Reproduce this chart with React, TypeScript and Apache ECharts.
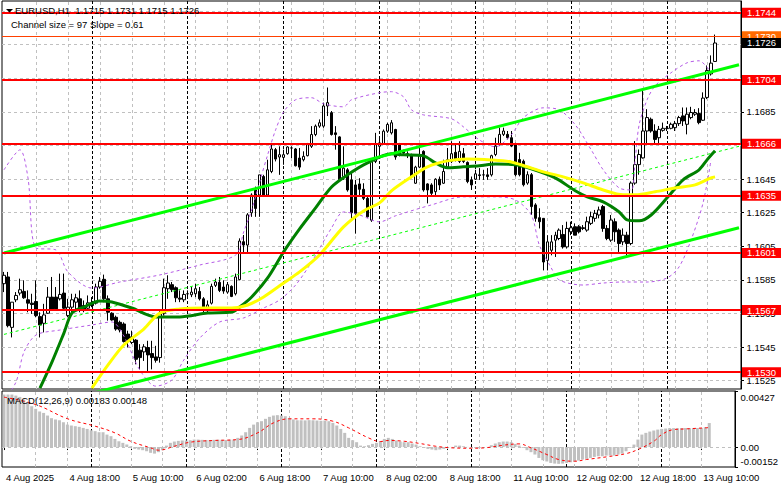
import React, { useEffect, useRef } from "react";
import * as echarts from "echarts";

// ---------- texts ----------
const symbolHeader = "EURUSD,H1  1.1715 1.1731 1.1715 1.1726";
const channelText = "Channel size = 97 Slope = 0.61";
const macdText = "MACD(12,26,9) 0.00183 0.00148";

// ---------- x axis ----------
const xTickLabels = [
  "4 Aug 2025", "4 Aug 18:00", "5 Aug 10:00", "6 Aug 02:00", "6 Aug 18:00", "7 Aug 10:00",
  "8 Aug 02:00", "8 Aug 18:00", "11 Aug 10:00", "12 Aug 02:00", "12 Aug 18:00", "13 Aug 10:00",
];
const BARS_PER_LABEL = 16;
const GRID_EVERY = 8;
const SLOT_COUNT = 185; // bars + empty space at the right
const daySeparators = [22, 46, 70, 94, 118, 142, 166];

// ---------- candles (H1) ----------
const opens = [
  1.15827, 1.15867, 1.15567, 1.15731, 1.15771, 1.15781, 1.15731, 1.15711, 1.15721, 1.15631,
  1.15591, 1.15651, 1.15747, 1.15747, 1.15737, 1.15771, 1.15637, 1.15687, 1.15717, 1.15737,
  1.15697, 1.15681, 1.15713, 1.15711, 1.15807, 1.15853, 1.15737, 1.15651, 1.15627, 1.15597,
  1.15587, 1.15527, 1.15477, 1.15491, 1.15431, 1.15421, 1.15447, 1.15411, 1.15391, 1.15387,
  1.15651, 1.15797, 1.15821, 1.15803, 1.15741, 1.15731, 1.15767, 1.15761, 1.15767, 1.15781,
  1.15737, 1.15667, 1.15711, 1.15817, 1.15835, 1.15807, 1.15777, 1.15811, 1.15767, 1.15851,
  1.16077, 1.16057, 1.16249, 1.16385, 1.16355, 1.16465, 1.16355, 1.16495, 1.16625, 1.16581,
  1.16579, 1.16601, 1.16635, 1.16629, 1.16575, 1.16565, 1.16589, 1.16645, 1.16715, 1.16765,
  1.16765, 1.16885, 1.16845, 1.16725, 1.16701, 1.16465, 1.16505, 1.16445, 1.16415, 1.16421,
  1.16389, 1.16335, 1.16205, 1.16555, 1.16645, 1.16661, 1.16735, 1.16725, 1.16745, 1.16655,
  1.16615, 1.16601, 1.16595, 1.16425, 1.16521, 1.16615, 1.16421, 1.16415, 1.16375, 1.16449,
  1.16425, 1.16521, 1.16555, 1.16609, 1.16555, 1.16601, 1.16549, 1.16445, 1.16449, 1.16475,
  1.16475, 1.16475, 1.16475, 1.16596, 1.16656, 1.16716, 1.16716, 1.16696, 1.16656, 1.16566,
  1.16556, 1.16426, 1.16476, 1.16296, 1.1622, 1.16216, 1.15966, 1.16026, 1.16086, 1.16096,
  1.1612, 1.16046, 1.16136, 1.16166, 1.16166, 1.1616, 1.16146, 1.16186, 1.16216, 1.16236,
  1.16286, 1.16156, 1.16086, 1.16196, 1.16146, 1.16076, 1.16116, 1.16066, 1.16426, 1.16536,
  1.16576, 1.16736, 1.16806, 1.16736, 1.16696, 1.1674, 1.1675, 1.16752, 1.16756, 1.1678,
  1.16826, 1.16776, 1.16816, 1.16836, 1.1684, 1.168, 1.16936, 1.17076, 1.1715,
];
const highs = [
  1.15897, 1.15897, 1.15717, 1.15777, 1.15857, 1.15847, 1.15787, 1.15767, 1.15847, 1.15657,
  1.15707, 1.15807, 1.15867, 1.15807, 1.15887, 1.15887, 1.15737, 1.15767, 1.15767, 1.15787,
  1.15727, 1.15757, 1.15747, 1.15827, 1.15867, 1.15881, 1.15757, 1.15657, 1.15637, 1.15607,
  1.15597, 1.15547, 1.15547, 1.15497, 1.15467, 1.15467, 1.15487, 1.15487, 1.15457, 1.15667,
  1.15857, 1.15877, 1.15837, 1.15811, 1.15787, 1.15787, 1.15787, 1.15807, 1.15827, 1.15807,
  1.15747, 1.15727, 1.15827, 1.15857, 1.15867, 1.15847, 1.15837, 1.15817, 1.15887, 1.16097,
  1.16117, 1.16247, 1.16365, 1.16405, 1.16475, 1.16475, 1.16565, 1.16665, 1.16635, 1.16645,
  1.16625, 1.16645, 1.16645, 1.16635, 1.16635, 1.16615, 1.16665, 1.16765, 1.16775, 1.16805,
  1.16905, 1.16995, 1.16855, 1.16765, 1.16705, 1.16645, 1.16515, 1.16485, 1.16445, 1.16455,
  1.16425, 1.16345, 1.16565, 1.16725, 1.16689, 1.16745, 1.16785, 1.16801, 1.16749, 1.16665,
  1.16625, 1.16615, 1.16601, 1.16529, 1.16655, 1.16621, 1.16425, 1.16425, 1.16455, 1.16465,
  1.16565, 1.16635, 1.16675, 1.16655, 1.16675, 1.16635, 1.16555, 1.16465, 1.16505, 1.16515,
  1.16505, 1.16515, 1.16595, 1.16696, 1.16756, 1.16756, 1.16736, 1.16736, 1.16666, 1.16606,
  1.16566, 1.16496, 1.16486, 1.16306, 1.16276, 1.16216, 1.16116, 1.16116, 1.16136, 1.16156,
  1.16176, 1.16196, 1.16196, 1.16186, 1.16176, 1.16176, 1.16226, 1.16256, 1.16266, 1.16286,
  1.16296, 1.16176, 1.16236, 1.16216, 1.16156, 1.16156, 1.16136, 1.16436, 1.16676, 1.16626,
  1.16986, 1.16866, 1.16816, 1.16776, 1.16766, 1.16786, 1.16766, 1.16786, 1.16796, 1.16826,
  1.16876, 1.16876, 1.1688, 1.16866, 1.16872, 1.16966, 1.17126, 1.17186, 1.1731,
];
const lows = [
  1.15777, 1.15567, 1.15507, 1.15717, 1.15757, 1.15737, 1.15657, 1.15647, 1.15627, 1.15507,
  1.15537, 1.15647, 1.15667, 1.15667, 1.15727, 1.15667, 1.15627, 1.15647, 1.15667, 1.15657,
  1.15657, 1.15667, 1.15687, 1.15703, 1.15797, 1.15717, 1.15607, 1.15607, 1.15547, 1.15537,
  1.15477, 1.15447, 1.15467, 1.15347, 1.15317, 1.15367, 1.15297, 1.15317, 1.15357, 1.15357,
  1.15637, 1.15737, 1.15777, 1.15717, 1.15717, 1.15717, 1.15747, 1.15747, 1.15747, 1.15727,
  1.15657, 1.15657, 1.15703, 1.15807, 1.15777, 1.15767, 1.15767, 1.15747, 1.15757, 1.15847,
  1.16007, 1.16007, 1.16225, 1.16225, 1.16225, 1.16345, 1.16345, 1.16485, 1.16555, 1.16475,
  1.16535, 1.16595, 1.16575, 1.16525, 1.16505, 1.16555, 1.16585, 1.16635, 1.16705, 1.16755,
  1.16755, 1.16825, 1.16709, 1.16625, 1.16445, 1.16445, 1.16375, 1.16205, 1.16125, 1.16355,
  1.16325, 1.16221, 1.16195, 1.16545, 1.16575, 1.16655, 1.16725, 1.16715, 1.16565, 1.16585,
  1.16595, 1.16575, 1.16455, 1.16421, 1.16515, 1.16375, 1.16305, 1.16355, 1.16355, 1.16385,
  1.16421, 1.16515, 1.16545, 1.16555, 1.16545, 1.16545, 1.16425, 1.16385, 1.16445, 1.16445,
  1.16445, 1.16445, 1.16465, 1.16586, 1.16646, 1.16706, 1.16686, 1.1664, 1.16466, 1.16466,
  1.16406, 1.16416, 1.16236, 1.16196, 1.16156, 1.15906, 1.15906, 1.15996, 1.15986, 1.16086,
  1.16036, 1.16036, 1.16116, 1.16116, 1.16126, 1.16146, 1.16136, 1.16176, 1.16196, 1.16216,
  1.16136, 1.16086, 1.16076, 1.16076, 1.16016, 1.16056, 1.15996, 1.16056, 1.16416, 1.16476,
  1.16572, 1.16656, 1.16726, 1.16656, 1.16652, 1.16732, 1.16736, 1.16746, 1.16736, 1.16766,
  1.16766, 1.16716, 1.16806, 1.16826, 1.16776, 1.16796, 1.16926, 1.17066, 1.1715,
];
const closes = [
  1.15877, 1.15577, 1.15717, 1.15757, 1.15791, 1.15743, 1.15711, 1.15703, 1.15637, 1.15581,
  1.15641, 1.15747, 1.15671, 1.15677, 1.15763, 1.15681, 1.15687, 1.15731, 1.15743, 1.15671,
  1.15667, 1.15713, 1.15697, 1.15807, 1.15841, 1.15737, 1.15657, 1.15611, 1.15557, 1.15551,
  1.15483, 1.15483, 1.15511, 1.15377, 1.15387, 1.15451, 1.15403, 1.15387, 1.15371, 1.15647,
  1.15803, 1.15831, 1.15791, 1.15743, 1.15735, 1.15763, 1.15767, 1.15777, 1.15797, 1.15737,
  1.15687, 1.15701, 1.15811, 1.15837, 1.15787, 1.15783, 1.15821, 1.15751, 1.15867, 1.16081,
  1.16057, 1.16237, 1.16355, 1.16275, 1.16475, 1.16355, 1.16505, 1.16629, 1.16569, 1.16595,
  1.16595, 1.16641, 1.16635, 1.16529, 1.16521, 1.16585, 1.16655, 1.16715, 1.16765, 1.16785,
  1.16885, 1.16905, 1.16715, 1.16715, 1.16445, 1.16515, 1.16385, 1.16249, 1.16245, 1.16389,
  1.16335, 1.16225, 1.16555, 1.16655, 1.16665, 1.16735, 1.16775, 1.16785, 1.16581, 1.16595,
  1.16605, 1.16595, 1.16465, 1.16521, 1.16595, 1.16385, 1.16385, 1.16365, 1.16449, 1.16415,
  1.16495, 1.16565, 1.16601, 1.16565, 1.16615, 1.16555, 1.16435, 1.16415, 1.16481, 1.16471,
  1.16475, 1.16465, 1.16589, 1.16646, 1.16716, 1.16736, 1.16696, 1.16646, 1.16476, 1.16476,
  1.16416, 1.16476, 1.16286, 1.16216, 1.16196, 1.15956, 1.16076, 1.16076, 1.16116, 1.16146,
  1.16046, 1.16156, 1.1616, 1.16116, 1.16136, 1.16156, 1.16196, 1.16226, 1.16246, 1.16266,
  1.16156, 1.16096, 1.16206, 1.16136, 1.16066, 1.16116, 1.16066, 1.16426, 1.16536, 1.16596,
  1.16736, 1.16816, 1.16736, 1.16686, 1.16746, 1.16752, 1.16752, 1.16776, 1.1678, 1.16816,
  1.16796, 1.16836, 1.16846, 1.16846, 1.16786, 1.16932, 1.17096, 1.1714, 1.1726,
];

// ---------- price axis / levels ----------
const PRICE_MIN = 1.152;
const PRICE_MAX = 1.1751;
const priceTicks = [1.1525, 1.1545, 1.1565, 1.1585, 1.1605, 1.1625, 1.1645, 1.1665, 1.1685, 1.1705, 1.1725, 1.1745];
// tick labels that are not entirely covered by a level box
const priceTickLabels = [1.1525, 1.1545, 1.1565, 1.1585, 1.1605, 1.1625, 1.1645, 1.1685];
const levels = [1.1744, 1.1704, 1.1666, 1.1635, 1.1601, 1.1567, 1.153];
const askPrice = 1.173;
const bidPrice = 1.1726;

// ---------- regression channel ----------
const channelUpper = [[0, 1.1601], [184, 1.1713]];
const channelSize = 0.0097;

// ---------- moving averages [bar, price] ----------
const maGreen = [
  [9, 1.15205], [12, 1.1536], [15, 1.15533], [17, 1.15652], [20, 1.15688], [24, 1.15724], [27, 1.15718],
  [32, 1.15682], [38, 1.15629], [44, 1.15629], [51, 1.15652], [57, 1.15658], [59, 1.15688], [62, 1.15748],
  [66, 1.15861], [70, 1.16016], [74, 1.16153], [78, 1.16278], [82, 1.16403], [86, 1.16475], [91, 1.16546],
  [97, 1.166], [100, 1.16594], [105, 1.16588], [108, 1.16546], [111, 1.16517], [115, 1.16523], [119, 1.16529],
  [123, 1.1654], [128, 1.16535], [132, 1.16511], [138, 1.16457], [143, 1.1638], [146, 1.16344], [150, 1.16314],
  [154, 1.16254], [156, 1.16207], [159, 1.16201], [162, 1.16236], [166, 1.16338], [170, 1.16445], [174, 1.16505],
  [176, 1.16564], [178, 1.16618],
];
const maYellow = [
  [22, 1.15205], [26, 1.15342], [30, 1.15462], [35, 1.15557], [39, 1.15652], [44, 1.15676], [50, 1.15682],
  [57, 1.15682], [61, 1.157], [65, 1.15748], [70, 1.15831], [74, 1.15897], [79, 1.15998], [85, 1.16165],
  [90, 1.1626], [94, 1.16308], [97, 1.1638], [102, 1.16463], [106, 1.16523], [111, 1.16558], [116, 1.1657],
  [122, 1.16564], [127, 1.16552], [131, 1.16523], [135, 1.16493], [140, 1.16463], [145, 1.16427], [150, 1.16385],
  [155, 1.16356], [158, 1.16356], [163, 1.16374], [168, 1.16397], [173, 1.16415], [177, 1.16457], [178, 1.16463],
];

// ---------- bands [bar, price] ----------
const bandUpper = [
  [0, 1.16505], [4, 1.16624], [6, 1.16457], [8, 1.1604], [13, 1.16028], [16, 1.15897], [22, 1.15801],
  [29, 1.15837], [39, 1.15879], [49, 1.15938], [58, 1.15998], [60, 1.16135], [62, 1.16266], [64, 1.16433],
  [66, 1.16594], [68, 1.16743], [70, 1.1685], [73, 1.16922], [77, 1.16934], [80, 1.16898], [85, 1.1688],
  [87, 1.16922], [94, 1.16964], [97, 1.1697], [100, 1.1694], [102, 1.16862], [105, 1.16832], [112, 1.16809],
  [115, 1.16761], [119, 1.16683], [123, 1.16642], [127, 1.16713], [130, 1.16815], [135, 1.16874], [139, 1.16862],
  [143, 1.16773], [147, 1.16624], [150, 1.16505], [154, 1.16397], [157, 1.16385], [158, 1.16564], [159, 1.16773],
  [161, 1.16922], [163, 1.17005], [167, 1.17083], [171, 1.17142], [174, 1.17154], [177, 1.17083],
];
const bandLower = [
  [0, 1.15134], [3, 1.15241], [5, 1.1542], [8, 1.15521], [14, 1.15551], [22, 1.15581], [27, 1.15599],
  [30, 1.15515], [34, 1.15313], [38, 1.15217], [42, 1.15253], [45, 1.15372], [49, 1.15503], [54, 1.15599],
  [60, 1.15623], [65, 1.15682], [69, 1.1573], [73, 1.15819], [77, 1.15956], [82, 1.16159], [85, 1.16254],
  [89, 1.16236], [94, 1.16195], [98, 1.16231], [107, 1.16296], [115, 1.16344], [123, 1.16344], [128, 1.16326],
  [132, 1.16236], [134, 1.16058], [137, 1.15921], [139, 1.15849], [145, 1.15819], [150, 1.15831], [155, 1.15837],
  [161, 1.15837], [166, 1.15861], [169, 1.15927], [172, 1.16087], [175, 1.16308], [177, 1.16564],
];

// ---------- MACD ----------
const MACD_MIN = -0.00152;
const MACD_MAX = 0.00427;
const macdHist = [
  0.004, 0.004, 0.004, 0.00392, 0.00382, 0.00362, 0.00337, 0.00311, 0.00291, 0.00271,
  0.0026, 0.0024, 0.0022, 0.0021, 0.00204, 0.00189, 0.00171, 0.00164, 0.00159, 0.00154,
  0.00146, 0.00138, 0.00128, 0.00121, 0.00113, 0.00113, 0.00095, 0.00083, 0.00062, 0.00044,
  0.00032, 0.00019, 0.00006, -0.00014, -0.00019, -0.00024, -0.00032, -0.00044, -0.0005, -0.00039,
  -0.00024, 0.00011, 0.00032, 0.00042, 0.00047, 0.0005, 0.0005, 0.00052, 0.00057, 0.00057,
  0.00055, 0.00054, 0.00053, 0.00055, 0.00056, 0.00055, 0.00054, 0.00057, 0.00057, 0.0007,
  0.00088, 0.00113, 0.00146, 0.00171, 0.00189, 0.00197, 0.00215, 0.0023, 0.0024, 0.00243,
  0.0024, 0.00235, 0.00222, 0.0021, 0.00204, 0.00204, 0.00203, 0.00205, 0.00204, 0.00202,
  0.002, 0.00202, 0.00197, 0.00184, 0.00164, 0.00138, 0.00108, 0.0007, 0.00052, 0.00037,
  0.00011, 0.00006, 0.00014, 0.00024, 0.00032, 0.00044, 0.00062, 0.0007, 0.00062, 0.0005,
  0.00042, 0.00037, 0.00037, 0.00027, 0.00019, 0.00006, -0.00006, -0.00014, -0.00019, -0.00024,
  -0.00019, -0.00014, -0.00006, 0.00001, 0.00011, 0.00011, 0.00006, 0.00001, -0.00004, -0.00006,
  -0.00006, -0.00004, 0.00001, 0.00014, 0.00027, 0.00037, 0.00042, 0.00042, 0.00037, 0.00024,
  0.00011, -0.00006, -0.00024, -0.00039, -0.00057, -0.00083, -0.001, -0.0011, -0.00121, -0.00126,
  -0.00128, -0.00126, -0.00121, -0.00116, -0.0011, -0.00103, -0.00095, -0.0009, -0.00083, -0.00075,
  -0.0007, -0.0007, -0.00065, -0.00065, -0.00065, -0.00057, -0.0005, -0.00032, -0.00006, 0.00019,
  0.00057, 0.00095, 0.00108, 0.00118, 0.00126, 0.00133, 0.00138, 0.00141, 0.00144, 0.00144,
  0.00143, 0.00144, 0.00145, 0.00144, 0.00143, 0.00145, 0.00146, 0.00151, 0.00183,
];
const macdSignal = [
  [0, 0.0038], [8, 0.00324], [16, 0.00216], [23, 0.00159], [28, 0.00108], [32, 0.00044], [37, -0.00006],
  [39, -0.00024], [43, 0.00006], [47, 0.00037], [53, 0.0005], [59, 0.00057], [64, 0.00108], [68, 0.00184],
  [72, 0.00215], [78, 0.00215], [83, 0.00197], [87, 0.00146], [92, 0.0007], [95, 0.00042], [97, 0.0005],
  [101, 0.00044], [105, 0.00027], [109, 0.00006], [113, -0.00006], [118, -0.00009], [122, -0.00004],
  [126, 0.00014], [130, 0.00024], [133, -0.00006], [137, -0.00057], [140, -0.00095], [144, -0.00108],
  [147, -0.00095], [152, -0.00075], [157, -0.0005], [160, -0.00019], [164, 0.00044], [166, 0.00095],
  [169, 0.00133], [172, 0.00138], [178, 0.00148],
];

// ---------- styling ----------
const FONT = '"Liberation Sans", Arial, sans-serif';
const FS = 9.5;
const GRID_LEFT = 2;
const GRID_RIGHT = 40;
const MACD_TOP = 391;
const MACD_HEIGHT = 76;
const MACD_LABEL_INSET_PX = 6;

function buildOption() {
  const categories = Array.from({ length: SLOT_COUNT }, (_, i) => String(i));
  const candleData = opens.map((o, i) => [o, closes[i], lows[i], highs[i]]);

  const vGridLines: any[] = [];
  for (let i = GRID_EVERY; i < opens.length; i += GRID_EVERY) vGridLines.push({ xAxis: i });
  const daySepLines = daySeparators.map((d) => ({
    xAxis: d,
    lineStyle: { color: "#000", type: [3, 2], width: 1 },
  }));
  const hGridLines = priceTicks.map((t) => ({ yAxis: t }));

  const gridMarkStyle = { color: "#c0c0c0", type: [3, 3], width: 1 };

  const upper = channelUpper;
  const lower = channelUpper.map(([x, y]) => [x, y - channelSize]);
  const middle = channelUpper.map(([x, y]) => [x, y - channelSize / 2]);

  const levelLabel = (bg: string) => ({
    show: true,
    position: "end",
    distance: 1,
    formatter: (p: any) => Number(p.value).toFixed(4),
    color: "#fff",
    backgroundColor: bg,
    fontSize: FS,
    fontFamily: FONT,
    lineHeight: 9,
    padding: [1, 4, 0, 5],
    width: 30,
  });

  const levelLines: any[] = levels.map((v) => ({
    yAxis: v,
    lineStyle: { color: "#ff0000", width: 2, type: "solid" },
    label: levelLabel("#ff0000"),
  }));
  levelLines.push({
    yAxis: askPrice,
    lineStyle: { color: "#ff4000", width: 1, type: "solid" },
    label: levelLabel("#ff6a00"),
  });
  levelLines.push({
    yAxis: bidPrice,
    lineStyle: { color: "rgba(0,0,0,0)", width: 0 },
    label: levelLabel("#000000"),
  });

  const macdSpan = MACD_MAX - MACD_MIN;
  const inset = (MACD_LABEL_INSET_PX / MACD_HEIGHT) * macdSpan;
  const macdLabelPos = [MACD_MAX - inset, 0, MACD_MIN + inset];
  const macdLabelText = [MACD_MAX.toFixed(5), "0.00", MACD_MIN.toFixed(5)];

  const showEvery = (n: number) => (idx: number) => idx % n === 0 && idx < opens.length;

  return {
    animation: false,
    backgroundColor: "#ffffff",
    title: [
      {
        text: symbolHeader, left: 15, top: 5, padding: 0,
        textStyle: { fontSize: FS, fontWeight: "normal", fontFamily: FONT, color: "#000" },
      },
      {
        text: channelText, left: 11, top: 19, padding: 0,
        textStyle: { fontSize: FS, fontWeight: "normal", fontFamily: FONT, color: "#000" },
      },
      {
        text: macdText, left: 7, top: 395, padding: 0,
        textStyle: { fontSize: FS, fontWeight: "normal", fontFamily: FONT, color: "#000" },
      },
    ],
    graphic: [
      {
        type: "polygon",
        shape: { points: [[6, 9], [13, 9], [9.5, 12.5]] },
        style: { fill: "#000" },
        z: 100,
      },
    ],
    grid: [
      { left: GRID_LEFT, right: GRID_RIGHT, top: 1, height: 388, show: true, borderColor: "#000", borderWidth: 1, backgroundColor: "#fff" },
      { left: GRID_LEFT, right: GRID_RIGHT, top: MACD_TOP, height: MACD_HEIGHT, show: true, borderColor: "#000", borderWidth: 1, backgroundColor: "#fff" },
    ],
    xAxis: [
      {
        type: "category", gridIndex: 0, data: categories, boundaryGap: true,
        axisLine: { show: false }, axisTick: { show: false }, axisLabel: { show: false }, splitLine: { show: false },
      },
      {
        type: "category", gridIndex: 1, data: categories, boundaryGap: true,
        axisLine: { show: false },
        axisTick: { show: true, alignWithLabel: true, interval: showEvery(BARS_PER_LABEL), length: 3, lineStyle: { color: "#000" } },
        axisLabel: {
          show: true,
          interval: showEvery(BARS_PER_LABEL),
          formatter: (_v: string, idx: number) => xTickLabels[Math.round(idx / BARS_PER_LABEL)] ?? "",
          align: "left",
          padding: [0, 0, 0, 2],
          margin: 5,
          fontSize: FS,
          fontFamily: FONT,
          color: "#000",
        },
        splitLine: { show: false },
      },
    ],
    yAxis: [
      {
        type: "value", gridIndex: 0, position: "right", min: PRICE_MIN, max: PRICE_MAX, scale: true,
        axisLine: { show: true, lineStyle: { color: "#000" } },
        axisTick: { show: true, customValues: priceTicks, length: 3, lineStyle: { color: "#000" } },
        axisLabel: {
          show: true, customValues: priceTickLabels, margin: 5.5,
          formatter: (v: number) => v.toFixed(4),
          fontSize: FS, fontFamily: FONT, color: "#000",
        },
        splitLine: { show: false },
      },
      {
        type: "value", gridIndex: 1, position: "right", min: MACD_MIN, max: MACD_MAX,
        axisLine: { show: true, lineStyle: { color: "#000" } },
        axisTick: { show: true, customValues: [MACD_MAX, 0, MACD_MIN], length: 3, lineStyle: { color: "#000" } },
        axisLabel: {
          show: true, customValues: macdLabelPos, margin: 5.5,
          formatter: (v: number) => {
            let best = 0;
            macdLabelPos.forEach((p, i) => { if (Math.abs(p - v) < Math.abs(macdLabelPos[best] - v)) best = i; });
            return macdLabelText[best];
          },
          fontSize: FS, fontFamily: FONT, color: "#000",
        },
        splitLine: { show: false },
      },
    ],
    series: [
      // grid lines (price panel)
      {
        type: "line", xAxisIndex: 0, yAxisIndex: 0, data: [], silent: true,
        markLine: {
          z: 1, silent: true, symbol: "none", animation: false, precision: 6,
          label: { show: false }, lineStyle: gridMarkStyle,
          data: [...hGridLines, ...vGridLines, ...daySepLines],
        },
      },
      // grid lines (MACD panel)
      {
        type: "line", xAxisIndex: 1, yAxisIndex: 1, data: [], silent: true,
        markLine: {
          z: 1, silent: true, symbol: "none", animation: false, precision: 6,
          label: { show: false }, lineStyle: gridMarkStyle,
          data: [{ yAxis: 0 }, ...vGridLines, ...daySepLines],
        },
      },
      {
        name: "EURUSD", type: "candlestick", xAxisIndex: 0, yAxisIndex: 0, data: candleData, barWidth: 3, z: 3,
        itemStyle: { color: "#ffffff", color0: "#000000", borderColor: "#000000", borderColor0: "#000000", borderWidth: 1 },
      },
      {
        name: "bandUpper", type: "line", xAxisIndex: 0, yAxisIndex: 0, data: bandUpper, showSymbol: false, smooth: 0.3, z: 4,
        lineStyle: { color: "#b45ae6", width: 1, type: [3, 3] },
      },
      {
        name: "bandLower", type: "line", xAxisIndex: 0, yAxisIndex: 0, data: bandLower, showSymbol: false, smooth: 0.3, z: 4,
        lineStyle: { color: "#b45ae6", width: 1, type: [3, 3] },
      },
      {
        name: "channelMid", type: "line", xAxisIndex: 0, yAxisIndex: 0, data: middle, showSymbol: false, z: 4,
        lineStyle: { color: "#00ff00", width: 1, type: [3, 3] },
      },
      {
        name: "maGreen", type: "line", xAxisIndex: 0, yAxisIndex: 0, data: maGreen, showSymbol: false, smooth: 0.3, z: 5,
        lineStyle: { color: "#008000", width: 3 },
      },
      {
        name: "maYellow", type: "line", xAxisIndex: 0, yAxisIndex: 0, data: maYellow, showSymbol: false, smooth: 0.3, z: 5,
        lineStyle: { color: "#ffff00", width: 3 },
      },
      {
        name: "channelUpper", type: "line", xAxisIndex: 0, yAxisIndex: 0, data: upper, showSymbol: false, z: 5,
        lineStyle: { color: "#00ff00", width: 3 },
      },
      {
        name: "channelLower", type: "line", xAxisIndex: 0, yAxisIndex: 0, data: lower, showSymbol: false, z: 5,
        lineStyle: { color: "#00ff00", width: 3 },
      },
      // horizontal levels with price boxes
      {
        type: "line", xAxisIndex: 0, yAxisIndex: 0, data: [], clip: false, silent: true, z: 6,
        markLine: { z: 6, silent: true, symbol: "none", animation: false, precision: 6, data: levelLines },
      },
      {
        name: "MACD", type: "bar", xAxisIndex: 1, yAxisIndex: 1, data: macdHist, barWidth: 3, z: 3,
        itemStyle: { color: "#c0c0c0" },
      },
      {
        name: "Signal", type: "line", xAxisIndex: 1, yAxisIndex: 1, data: macdSignal, showSymbol: false, smooth: 0.4, z: 4,
        lineStyle: { color: "#ff0000", width: 1, type: [3, 3] },
      },
    ],
  };
}

export default function App() {
  const ref = useRef<HTMLDivElement>(null);
  useEffect(() => {
    if (!ref.current) return;
    const chart = echarts.init(ref.current, null, { renderer: "svg" });
    chart.setOption(buildOption() as any);
    return () => chart.dispose();
  }, []);
  return (
    <div
      ref={ref}
      style={{ position: "fixed", left: 0, top: 0, width: 781, height: 489, background: "#fff" }}
    />
  );
}
